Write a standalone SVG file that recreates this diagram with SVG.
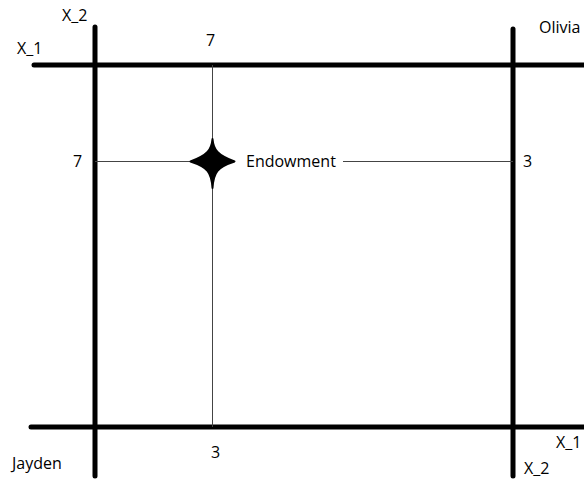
<svg xmlns="http://www.w3.org/2000/svg" width="584" height="481" viewBox="0 0 584 481">
<style>
.thick{stroke:#000;stroke-width:5;stroke-linecap:round;fill:none}
.thin{stroke:#444;stroke-width:1;fill:none}
text{font-family:"Open Sans","Liberation Sans",sans-serif;font-size:16px;fill:#000}
</style>
<rect width="584" height="481" fill="#fff"/>
<g id="connectors">
<line class="thick" x1="34" y1="65" x2="586" y2="65"/>
<line class="thick" x1="31" y1="427" x2="586" y2="427"/>
<line class="thick" x1="95" y1="27" x2="95" y2="476"/>
<line class="thick" x1="513" y1="29" x2="513" y2="476"/>
<line class="thin" x1="212.5" y1="65" x2="212.5" y2="427"/>
<line class="thin" x1="95" y1="161.5" x2="200" y2="161.5"/>
<line class="thin" x1="343" y1="161.5" x2="513" y2="161.5"/>
</g>
<g id="endowment">
<path d="M212.5,139 C213.5,150 217.5,155 234.5,161.5 C217.5,167 213.5,172 212.5,188 C211.5,172 207.5,167 190.5,161.5 C207.5,155 211.5,150 212.5,139 Z" fill="#000" stroke="#000" stroke-width="2" stroke-linejoin="round"/>
<text x="246" y="167">Endowment</text>
</g>
<g id="labels">
<text x="62" y="21">X_2</text>
<text x="17" y="54">X_1</text>
<text x="206" y="46">7</text>
<text x="73" y="167">7</text>
<text x="523" y="167">3</text>
<text x="539" y="33">Olivia</text>
<text x="12" y="469">Jayden</text>
<text x="211" y="458">3</text>
<text x="556" y="448">X_1</text>
<text x="524" y="474">X_2</text>
</g>
</svg>
